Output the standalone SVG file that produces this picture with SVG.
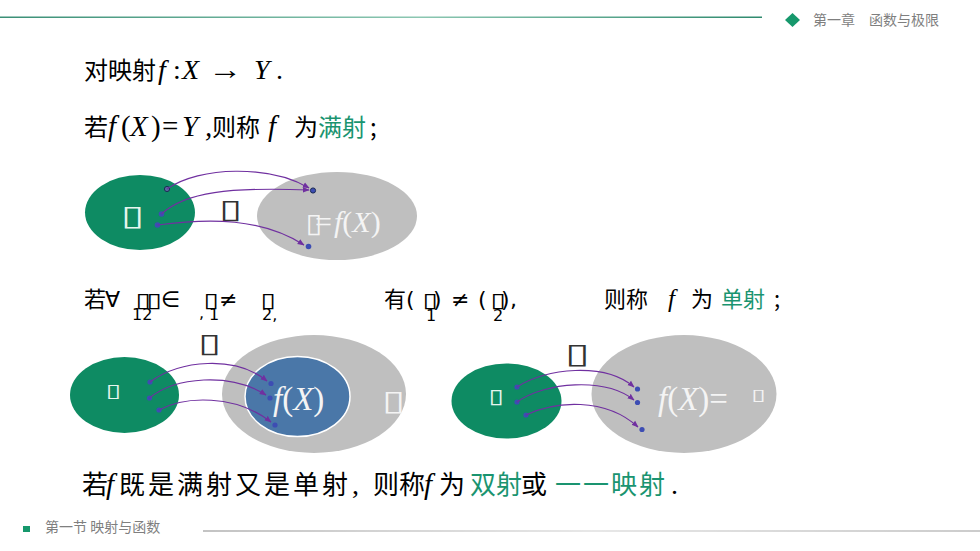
<svg xmlns="http://www.w3.org/2000/svg" width="980" height="551" viewBox="0 0 980 551">
<defs>
<linearGradient id="topLine" x1="0" y1="0" x2="1" y2="0">
<stop offset="0" stop-color="#3a8f76"/>
<stop offset="0.55" stop-color="#8cc7b2"/>
<stop offset="1" stop-color="#2f8a6e"/>
</linearGradient>
<linearGradient id="botLine" x1="0" y1="0" x2="1" y2="0">
<stop offset="0" stop-color="#888"/>
<stop offset="0.5" stop-color="#d0d0d0"/>
<stop offset="1" stop-color="#999"/>
</linearGradient>
<marker id="ah" viewBox="0 0 10 10" refX="9" refY="5" markerWidth="7" markerHeight="7" markerUnits="userSpaceOnUse" orient="auto">
<path d="M0,1 L10,5 L0,9 z" fill="#7030a0"/>
</marker>
</defs>
<style>
.cjk{font-family:"Noto Sans CJK SC","Noto Sans",sans-serif;}
.m{font-family:"Liberation Serif",serif;font-style:italic;}
.u{font-family:"Liberation Serif",serif;font-style:normal;}
.sym{font-family:"DejaVu Sans",sans-serif;}
.tofu{font-family:"DejaVu Sans",sans-serif;font-style:normal;}
.g{fill:#1a9470;}
.dot{fill:#3d4db3;}
.conn path{fill:none;stroke:#7030a0;stroke-width:1.2;marker-end:url(#ah);}
.hdr{font-family:"Noto Sans CJK SC",sans-serif;font-size:14px;fill:#7f7f7f;}
</style>

<g id="header">
<rect x="0" y="16.5" width="762" height="1.5" fill="url(#topLine)"/>
<polygon points="792.5,13 800,20 792.5,27 785,20" fill="#16986c"/>
<text class="hdr" y="25"><tspan x="813">第一章</tspan><tspan x="869">函数与极限</tspan></text>
</g>

<g id="footer">
<rect x="23" y="526" width="7" height="6" fill="#16986c"/>
<text class="hdr" x="45" y="532">第一节 映射与函数</text>
<rect x="203" y="530.5" width="777" height="1" fill="url(#botLine)"/>
</g>

<g id="line1">
<text class="cjk" font-size="24" y="79"><tspan x="84">对映射</tspan><tspan class="m" font-size="28" x="158">f</tspan><tspan class="u" font-size="28" x="173">:</tspan><tspan class="m" font-size="28" x="182">X</tspan></text>
<text class="u" font-size="28" x="208" y="79" textLength="34" lengthAdjust="spacingAndGlyphs">→</text>
<text class="m" font-size="28" y="79"><tspan x="254">Y</tspan><tspan class="u" x="276">.</tspan></text>
</g>

<g id="line2">
<text class="cjk" font-size="24" y="136"><tspan x="84">若</tspan><tspan class="m" font-size="29" x="108">f</tspan><tspan class="u" font-size="29" x="121">(</tspan><tspan class="m" font-size="29" x="130">X</tspan><tspan class="u" font-size="29" x="151">)</tspan><tspan class="u" font-size="29" x="162">=</tspan><tspan class="m" font-size="29" x="182">Y</tspan><tspan class="m" font-size="29" x="205">,</tspan><tspan x="212">则称</tspan><tspan class="m" font-size="29" x="268">f</tspan><tspan x="294">为</tspan><tspan class="g" x="318">满射</tspan><tspan x="370">;</tspan></text>
</g>

<g id="line3">
<text class="cjk" font-size="22" x="84" y="307">若</text>
<text class="sym" font-size="22" x="105" y="307">∀</text>
<text class="tofu" font-size="20" transform="translate(135.6,307) scale(1.4,1)">▯</text>
<text class="tofu" font-size="20" transform="translate(146.6,307) scale(1.4,1)">▯</text>
<text class="sym" font-size="16" x="132" y="320">12</text>
<text class="sym" font-size="22" x="161" y="307">∈</text>
<text class="sym" font-size="16" x="199" y="318">,</text>
<text class="tofu" font-size="20" transform="translate(203.6,307) scale(1.4,1)">▯</text>
<text class="sym" font-size="16" x="209" y="320">1</text>
<text class="sym" font-size="22" x="219" y="307">≠</text>
<text class="tofu" font-size="20" transform="translate(260.6,307) scale(1.4,1)">▯</text>
<text class="sym" font-size="16" x="262" y="320">2,</text>
<text class="cjk" font-size="22" x="384" y="307">有</text>
<text class="sym" font-size="22" x="406" y="307">(</text>
<text class="tofu" font-size="20" transform="translate(422.6,307) scale(1.4,1)">▯</text>
<text class="sym" font-size="16" x="426" y="321">1</text>
<text class="sym" font-size="22" x="433" y="307">)</text>
<text class="sym" font-size="22" x="451" y="307">≠</text>
<text class="sym" font-size="22" x="478" y="307">(</text>
<text class="tofu" font-size="20" transform="translate(490.6,307) scale(1.4,1)">▯</text>
<text class="sym" font-size="16" x="493" y="321">2</text>
<text class="sym" font-size="22" x="501" y="307">)</text>
<text class="sym" font-size="22" x="510" y="307">,</text>
<text class="cjk" font-size="22" y="307"><tspan x="604">则称</tspan><tspan class="m" font-size="25" x="668">f</tspan><tspan x="691">为</tspan><tspan class="g" x="721">单射</tspan><tspan x="774">;</tspan></text>
</g>

<g id="line4">
<text class="cjk" font-size="26" y="494"><tspan x="82">若</tspan><tspan class="m" font-size="29" x="106">f</tspan><tspan x="119" letter-spacing="3">既是满射又是单射</tspan><tspan class="u" font-size="28" x="352">,</tspan><tspan x="373">则称</tspan><tspan class="m" font-size="29" x="424">f</tspan><tspan x="439">为</tspan><tspan class="g" x="470">双射</tspan><tspan x="521">或</tspan><tspan class="g" x="555" letter-spacing="2">一一映射</tspan><tspan class="u" font-size="28" x="671">.</tspan></text>
</g>

<!-- Diagram 1: surjection -->
<g id="d1-X">
<ellipse cx="140" cy="212.5" rx="55" ry="37.5" fill="#0e8b63"/>
<text class="tofu" font-size="28" fill="#e6f5ee" transform="translate(121,225) scale(1.5,1)">▯</text>
</g>
<g id="d1-f">
<text class="tofu" font-size="26.5" fill="#333" transform="translate(219,218) scale(1.58,1)">▯</text>
</g>
<g id="d1-Y">
<ellipse cx="337" cy="216" rx="80" ry="44" fill="#bfbfbf"/>
<text class="tofu" font-size="26.5" fill="#f4f4f4" transform="translate(305.5,232) scale(1.15,1)">▯</text>
<text font-size="30" y="232" fill="#f4f4f4"><tspan class="u" x="315">=</tspan><tspan class="m" x="334">f</tspan><tspan class="u">(</tspan><tspan class="m">X</tspan><tspan class="u">)</tspan></text>
</g>

<!-- Diagram 2: injection into Y -->
<g id="d2-X">
<ellipse cx="124.5" cy="395" rx="54.5" ry="38" fill="#0e8b63"/>
<text class="tofu" font-size="19" fill="#e6f5ee" transform="translate(105.6,397) scale(1.47,1)">▯</text>
</g>
<g id="d2-f">
<text class="tofu" font-size="26.5" fill="#333" transform="translate(198,352) scale(1.58,1)">▯</text>
</g>
<g id="d2-Y">
<ellipse cx="314" cy="394" rx="92" ry="59" fill="#bfbfbf"/>
<text class="tofu" font-size="28" fill="#f4f4f4" transform="translate(382,410) scale(1.5,1)">▯</text>
</g>
<g id="d2-fX">
<ellipse cx="297.5" cy="396.5" rx="52.5" ry="40" fill="#4a77a8" stroke="#ffffff" stroke-width="1.5"/>
<text font-size="33" y="410" fill="#f4f4f4"><tspan class="m" x="273">f</tspan><tspan class="u">(</tspan><tspan class="m">X</tspan><tspan class="u">)</tspan></text>
</g>

<!-- Diagram 3: bijection -->
<g id="d3-X">
<ellipse cx="506.5" cy="401" rx="55" ry="37.5" fill="#0e8b63"/>
<text class="tofu" font-size="20" fill="#e6f5ee" transform="translate(488.6,403) scale(1.4,1)">▯</text>
</g>
<g id="d3-f">
<text class="tofu" font-size="28" fill="#333" transform="translate(565,363) scale(1.6,1)">▯</text>
</g>
<g id="d3-Y">
<ellipse cx="684" cy="394" rx="92.5" ry="59" fill="#bfbfbf"/>
<text font-size="33" y="410" fill="#f4f4f4"><tspan class="m" x="658">f</tspan><tspan class="u">(</tspan><tspan class="m">X</tspan><tspan class="u">)=</tspan></text>
<text class="tofu" font-size="16" fill="#f4f4f4" transform="translate(751.6,400) scale(1.7,1)">▯</text>
</g>

<g id="points">
<circle cx="167" cy="189" r="2.6" fill="#5a6aa0" stroke="#1c2c55" stroke-width="1"/>
<circle cx="313" cy="190.5" r="2.6" fill="#3d4db3" stroke="#1c2c55" stroke-width="1"/>
<circle class="dot" cx="161.5" cy="214" r="2.8"/>
<circle class="dot" cx="157.5" cy="225" r="2.8"/>
<circle class="dot" cx="308.5" cy="246.5" r="2.8"/>
<circle class="dot" cx="150" cy="382" r="2.6"/>
<circle class="dot" cx="149.5" cy="398" r="2.6"/>
<circle class="dot" cx="159" cy="410" r="2.6"/>
<circle class="dot" cx="271" cy="383.5" r="2.6"/>
<circle class="dot" cx="270" cy="398" r="2.6"/>
<circle class="dot" cx="275" cy="425" r="2.6"/>
<circle class="dot" cx="517" cy="387" r="2.6"/>
<circle class="dot" cx="517" cy="402" r="2.6"/>
<circle class="dot" cx="526" cy="415" r="2.6"/>
<circle class="dot" cx="637.5" cy="389" r="2.6"/>
<circle class="dot" cx="637.5" cy="402.5" r="2.6"/>
<circle class="dot" cx="642" cy="429.5" r="2.6"/>
</g>

<g id="connectors" class="conn">
<path d="M167,189 C200,166 270,165 309,188"/>
<path d="M161.5,214 C185,192 230,187 309,190"/>
<path d="M157.5,225 C210,218 262,218 304,245"/>
<path d="M150,382 C180,360 235,355 267,381"/>
<path d="M149.5,398 C175,377 230,372 266,395"/>
<path d="M159,410 C185,396 235,394 271,422"/>
<path d="M517,387 C545,368 605,362 634,387"/>
<path d="M517,402 C545,382 605,377 634,400"/>
<path d="M526,415 C555,401 605,397 638,427"/>
</g>
</svg>
